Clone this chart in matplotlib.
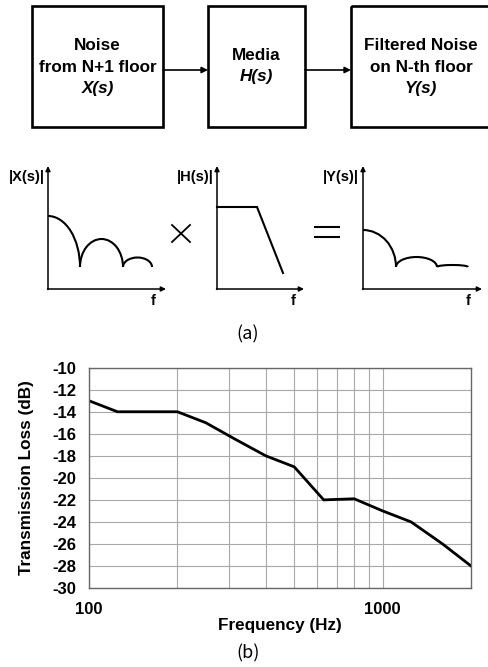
import matplotlib
matplotlib.use("Agg")
import matplotlib.pyplot as plt
from matplotlib.patches import Rectangle, Arc
from matplotlib.ticker import FixedLocator, NullFormatter

plt.rcParams['font.family'] = ['Liberation Sans', 'DejaVu Sans']
plt.rcParams['axes.unicode_minus'] = False

# ---- data (panel b) ----
freqs = [100, 125, 160, 200, 250, 315, 400, 500, 630, 800, 1000, 1250, 1600, 2000]
loss = [-13, -14, -14, -14, -15, -16.5, -18, -19, -22, -21.9, -23, -24, -26, -28]
yticks = [-10, -12, -14, -16, -18, -20, -22, -24, -26, -28, -30]
xticks = [100, 1000]
xgrid = [200, 300, 400, 500, 600, 700, 800, 900]

# ---- block diagram texts ----
box_lines = [["Noise", "from N+1 floor", "X(s)"],
             ["Media", "H(s)"],
             ["Filtered Noise", "on N-th floor", "Y(s)"]]
mini_labels = ["|X(s)|", "|H(s)|", "|Y(s)|"]

fig = plt.figure(figsize=(4.89, 6.67), dpi=100)
ov = fig.add_axes([0, 0, 1, 1])
ov.set_xlim(0, 489)
ov.set_ylim(667, 0)
ov.axis('off')

# boxes
boxes = [(32, 163), (208, 305), (351, 500)]
for (x0, x1) in boxes:
    ov.add_patch(Rectangle((x0, 6), x1 - x0, 121, fill=False, lw=1.9, ec='black'))

arrow_kw = dict(arrowstyle='-|>', lw=1.2, color='black', mutation_scale=9,
                shrinkA=0, shrinkB=0)
ov.annotate('', xy=(208, 70), xytext=(163, 70), arrowprops=arrow_kw)
ov.annotate('', xy=(351, 70), xytext=(305, 70), arrowprops=arrow_kw)

centers = [97.5, 256.5, 421]
ypos = [[45, 67, 89], [56, 77], [45, 67, 89]]
for cx, lines, ys in zip(centers, box_lines, ypos):
    for i, (t, y) in enumerate(zip(lines, ys)):
        style = 'italic' if i == len(lines) - 1 else 'normal'
        ov.text(cx, y, t, ha='center', va='center', fontsize=12.3,
                fontweight='bold', style=style)

# mini plots
ax_x = [48, 217, 363]
ax_xend = [166, 304, 482]
lab_x = [26.5, 195.5, 340.5]
f_x = [153, 293, 468]
small_kw = dict(arrowstyle='-|>', lw=1.1, color='black', mutation_scale=7,
                shrinkA=0, shrinkB=0)
for x0, xe, lx, fx, lab in zip(ax_x, ax_xend, lab_x, f_x, mini_labels):
    ov.annotate('', xy=(x0, 166), xytext=(x0, 289.5), arrowprops=small_kw)
    ov.annotate('', xy=(xe, 289), xytext=(x0 - 0.5, 289), arrowprops=small_kw)
    ov.text(lx, 177, lab, ha='center', va='center', fontsize=10.5, fontweight='bold')
    ov.text(fx, 301, 'f', ha='center', va='center', fontsize=10.5, fontweight='bold')

clw = 1.5
# |X(s)|
ov.add_patch(Arc((48, 267), 64, 102, theta1=270, theta2=360, lw=clw))
ov.add_patch(Arc((101.5, 267), 43, 56, theta1=180, theta2=360, lw=clw))
ov.add_patch(Arc((137.5, 267), 29, 19, theta1=180, theta2=360, lw=clw))
# |H(s)|
ov.plot([217, 257, 283], [207, 207, 273], color='black', lw=clw,
        solid_joinstyle='miter')
# |Y(s)|
ov.add_patch(Arc((363, 267), 66, 74, theta1=270, theta2=360, lw=clw))
ov.add_patch(Arc((416.5, 267), 41, 20, theta1=180, theta2=360, lw=clw))
ov.add_patch(Arc((452.5, 267), 31, 4, theta1=180, theta2=360, lw=clw))

# operators
ov.plot([172, 190], [225, 242], color='black', lw=1.3)
ov.plot([172, 190], [242, 225], color='black', lw=1.3)
ov.plot([315, 339], [227, 227], color='black', lw=1.5)
ov.plot([315, 339], [237, 237], color='black', lw=1.5)

ov.text(248, 334, '(a)', ha='center', va='center', fontsize=13,
        family=['Noto Sans CJK KR', 'DejaVu Sans'])
ov.text(248, 653, '(b)', ha='center', va='center', fontsize=13,
        family=['Noto Sans CJK KR', 'DejaVu Sans'])

# ---- chart (b) ----
L, R, T, B = 89, 471, 367.7, 588
ax = fig.add_axes([L / 489, (667 - B) / 667, (R - L) / 489, (B - T) / 667])
ax.set_xscale('log')
ax.set_xlim(100, 2000)
ax.set_ylim(-30, -10)
ax.plot(freqs, loss, color='black', lw=2)
ax.xaxis.set_major_locator(FixedLocator(xticks))
ax.xaxis.set_minor_locator(FixedLocator(xgrid))
ax.xaxis.set_minor_formatter(NullFormatter())
ax.set_xticklabels([str(v) for v in xticks])
ax.set_yticks(yticks)
ax.grid(True, which='both', color='#a8a8a8', lw=0.8)
ax.tick_params(which='both', length=0, labelsize=12, pad=9)
ax.tick_params(axis='x', pad=10)
for lab in ax.get_xticklabels() + ax.get_yticklabels():
    lab.set_fontweight('bold')
for s in ax.spines.values():
    s.set_color('#666666')
    s.set_linewidth(1.0)
ax.set_xlabel('Frequency (Hz)', fontsize=12.3, fontweight='bold', labelpad=1)
ax.set_ylabel('Transmission Loss (dB)', fontsize=12.3, fontweight='bold', labelpad=13)

fig.savefig('out.png', dpi=100)
